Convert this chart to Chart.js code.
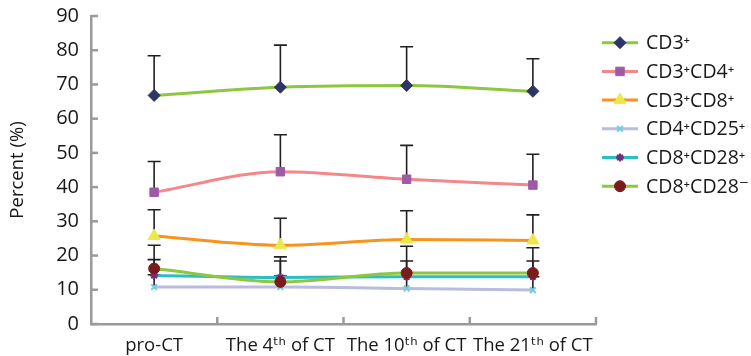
<!DOCTYPE html>
<html><head><meta charset="utf-8">
<script src="https://cdn.jsdelivr.net/npm/chart.js@4/dist/chart.umd.min.js"></script>
<style>html,body{margin:0;padding:0;background:#fff}#wrap{width:751px;height:356px}</style>
</head><body><div id="wrap"><canvas id="c" width="751" height="356"></canvas></div>
<script>
const categories = ["pro-CT", "The 4ᵗʰ of CT", "The 10ᵗʰ of CT", "The 21ᵗʰ of CT"];
const yTicks = [0,10,20,30,40,50,60,70,80,90];
const seriesNames = ["CD3⁺", "CD3⁺CD4⁺", "CD3⁺CD8⁺", "CD4⁺CD25⁺", "CD8⁺CD28⁺", "CD8⁺CD28⁻"];
const cd3 = [66.8, 69.2, 69.7, 68.0];
const cd3Err = [78.4, 81.5, 81.0, 77.5];
const cd3cd4 = [38.5, 44.5, 42.3, 40.6];
const cd3cd4Err = [47.5, 55.3, 52.2, 49.6];
const cd3cd8 = [25.7, 23.0, 24.7, 24.4];
const cd3cd8Err = [33.4, 30.9, 33.1, 31.9];
const cd4cd25 = [10.8, 10.8, 10.4, 9.9];
const cd4cd25Err = [14.4, 14.0, 13.8, 13.8];
const cd8cd28p = [14.2, 13.6, 13.8, 13.8];
const cd8cd28pErr = [18.8, 18.4, 18.4, 18.4];
const cd8cd28n = [16.2, 12.3, 14.9, 14.9];
const cd8cd28nErr = [23.0, 19.6, 22.7, 22.3];

const FONT = "'Open Sans', 'DejaVu Sans', sans-serif";
const AXIS = '#9a9a9a';
const TXT = '#1a1718';

function ds(label, data, err, line, mark, style, r, order) {
  return {label, data, err, borderColor: line, backgroundColor: mark, pointBackgroundColor: mark,
    pointBorderColor: mark, pointStyle: style, pointRadius: r, pointHoverRadius: r, borderWidth: 3,
    pointBorderWidth: style === 'crossRot' || style === 'star' ? 2 : 1, tension: 0.35,
    cubicInterpolationMode: 'monotone', fill: false, order};
}
const datasets = [
  ds(seriesNames[0], cd3, cd3Err, '#8dc63f', '#2e3466', 'rectRot', 6, 1),
  ds(seriesNames[1], cd3cd4, cd3cd4Err, '#f4878a', '#a05aa5', 'rect', 6, 2),
  ds(seriesNames[2], cd3cd8, cd3cd8Err, '#f7941d', '#ece84a', 'triangle', 7, 3),
  ds(seriesNames[3], cd4cd25, cd4cd25Err, '#b9bbe0', '#6fcde0', 'crossRot', 4, 6),
  ds(seriesNames[4], cd8cd28p, cd8cd28pErr, '#2bbfc4', '#7b2a80', 'star', 4, 5),
  ds(seriesNames[5], cd8cd28n, cd8cd28nErr, '#8dc63f', '#7a1c1c', 'circle', 5.5, 4),
];

const errorBars = {
  id: 'errorBars',
  beforeDatasetsDraw(chart) {
    const ctx = chart.ctx, x = chart.scales.x, y = chart.scales.y;
    ctx.save(); ctx.strokeStyle = '#231f20'; ctx.lineWidth = 1.6;
    chart.data.datasets.forEach(d => {
      d.data.forEach((v, i) => {
        const px = x.getPixelForValue(i), p0 = y.getPixelForValue(v), p1 = y.getPixelForValue(d.err[i]);
        ctx.beginPath(); ctx.moveTo(px, p0); ctx.lineTo(px, p1);
        ctx.moveTo(px - 6.5, p1); ctx.lineTo(px + 6.5, p1); ctx.stroke();
      });
    });
    ctx.restore();
  },
  afterDraw(chart) {
    const ctx = chart.ctx, x = chart.scales.x, y = chart.scales.y, a = chart.chartArea;
    ctx.save(); ctx.strokeStyle = AXIS; ctx.lineWidth = 2.5;
    yTicks.forEach(t => { const py = y.getPixelForValue(t); ctx.beginPath(); ctx.moveTo(a.left, py); ctx.lineTo(a.left + 7, py); ctx.stroke(); });
    for (let i = 0; i < categories.length; i++) {
      const px = i < categories.length - 1 ? (x.getPixelForValue(i) + x.getPixelForValue(i + 1)) / 2 : a.right;
      ctx.beginPath(); ctx.moveTo(px, a.bottom); ctx.lineTo(px, a.bottom - 7); ctx.stroke();
    }
    // legend
    const H = Chart.helpers;
    chart.data.datasets.forEach((d, i) => {
      const ly = 42.7 + i * 28.7;
      ctx.strokeStyle = d.borderColor; ctx.lineWidth = 3;
      ctx.beginPath(); ctx.moveTo(602, ly); ctx.lineTo(638, ly); ctx.stroke();
      ctx.fillStyle = d.pointBackgroundColor; ctx.strokeStyle = d.pointBorderColor; ctx.lineWidth = d.pointBorderWidth;
      H.drawPoint(ctx, {pointStyle: d.pointStyle, radius: d.pointRadius, rotation: 0, borderWidth: d.pointBorderWidth}, 620, ly);
      ctx.fillStyle = TXT; ctx.font = "19.5px " + FONT; ctx.textBaseline = 'middle'; ctx.textAlign = 'left';
      ctx.fillText(d.label, 646, ly + 1);
    });
    ctx.restore();
  }
};

new Chart(document.getElementById('c'), {
  type: 'line',
  data: {labels: categories, datasets},
  plugins: [errorBars],
  options: {
    responsive: false, animation: false, devicePixelRatio: 1,
    layout: {padding: {top: 15, right: 155, left: 0, bottom: 0}},
    plugins: {legend: {display: false}, tooltip: {enabled: false}},
    scales: {
      x: {offset: true,
        grid: {display: false, drawOnChartArea: false},
        border: {color: AXIS, width: 2.5},
        ticks: {color: TXT, font: {family: FONT, size: 18.5}, padding: 3, maxRotation: 0, autoSkip: false},
        afterFit: s => { s.height = 32; }},
      y: {min: 0, max: 90,
        afterBuildTicks: s => { s.ticks = yTicks.map(v => ({value: v})); },
        grid: {display: false, drawOnChartArea: false},
        border: {color: AXIS, width: 2.5},
        ticks: {color: TXT, font: {family: FONT, size: 20}, padding: 4},
        title: {display: true, text: 'Percent (%)', color: TXT, font: {family: FONT, size: 18.5}, padding: {top: 7, bottom: 0}},
        afterFit: s => { s.width = 91; }}
    }
  }
});
</script></body></html>
